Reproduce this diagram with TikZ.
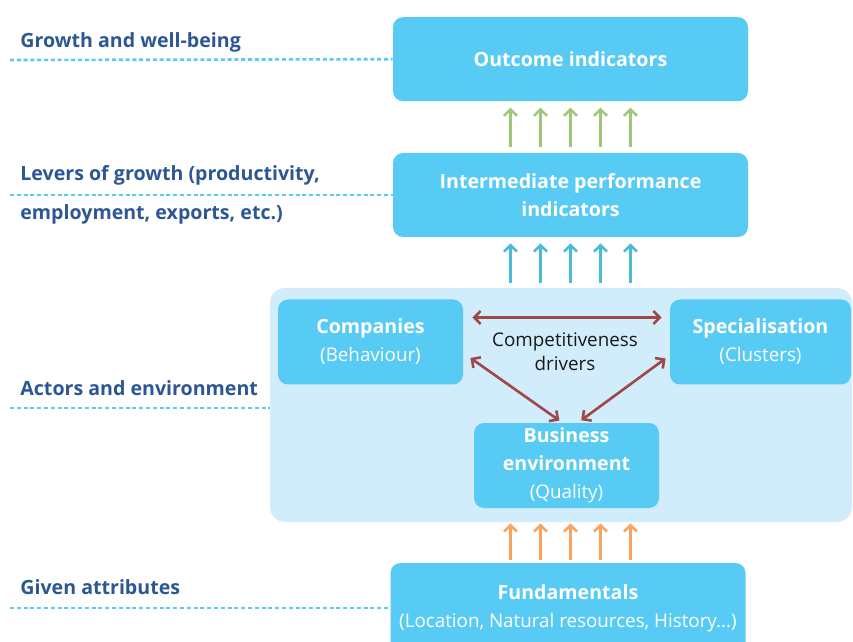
\documentclass[tikz,border=0pt]{standalone}
\usepackage{fontspec}
\setmainfont{Open Sans}
\usetikzlibrary{arrows.meta,positioning}

\definecolor{boxblue}{RGB}{88,203,245}
\definecolor{panelblue}{RGB}{209,236,250}
\definecolor{labblue}{RGB}{44,86,148}
\definecolor{upgreen}{RGB}{157,200,122}
\definecolor{upblue}{RGB}{74,187,214}
\definecolor{uporange}{RGB}{249,163,94}
\definecolor{linkred}{RGB}{160,71,74}

\newcommand{\sub}[1]{{\mdseries\fontsize{9.4}{14}\selectfont #1}}

\begin{document}
\begin{tikzpicture}[
  x=0.5pt,y=-0.5pt,
  font=\fontsize{9.8}{14}\selectfont,
  box/.style={fill=boxblue,rounded corners=5pt,align=center,text=white,font=\fontsize{9.8}{14}\selectfont\bfseries,inner sep=0pt},
  big/.style={box,minimum width=177.5pt,minimum height=42pt},
  small/.style={box,minimum width=92.5pt,minimum height=42.5pt},
  panel/.style={fill=panelblue,rounded corners=7.5pt,minimum width=291pt,minimum height=117pt,inner sep=0pt},
  lab/.style={anchor=west,align=left,text=labblue,inner sep=0pt,font=\fontsize{9.8}{13.5}\selectfont\bfseries},
  guide/.style={draw=boxblue,line width=1.3pt,dash pattern=on 2pt off 1.4pt},
  up/.style={-{Straight Barb[length=3.2pt,width=6.5pt]},line width=1.3pt},
  link/.style={{Straight Barb[length=3.2pt,width=6.5pt]}-{Straight Barb[length=3.2pt,width=6.5pt]},line width=1.3pt,draw=linkred}]
\path[use as bounding box] (0,0) rectangle (853,642);
\clip (0,0) rectangle (853,642);

% light area behind the actors
\node[panel] (panel) at (561,405) {};

% boxes
\node[big] (inter) at (570.5,195) {Intermediate performance\\indicators};
\node[big,above=25.5pt of inter] (outcome) {Outcome indicators};
\node[small] (comp) at (370.5,342) {Companies\\\sub{(Behaviour)}};
\node[small,minimum width=90.5pt] (spec) at (760.5,342) {Specialisation\\\sub{(Clusters)}};
\node[small] (busi) at (566.5,465.5) {Business\\environment\\\sub{(Quality)}};
\node[big,minimum height=45pt] (fund) at (568,608) {Fundamentals\\\sub{(Location, Natural resources, History...)}};
\node[font=\fontsize{9.4}{12}\selectfont,text=black!90,align=center] (drv) at (565,352) {Competitiveness\\drivers};

% levels on the left
\node[lab] (lgrowth) at (20,42) {Growth and well-being};
\node[lab] (llevers) at (20,194.5) {Levers of growth (productivity,\\[6pt]employment, exports, etc.)};
\node[lab] (lactors) at (20,388) {Actors and environment};
\node[lab] (lgiven) at (20,587) {Given attributes};

\coordinate (g0) at (10,60);
\coordinate (l0) at (10,195);
\coordinate (a0) at (10,408);
\coordinate (v0) at (10,608);
\draw[guide] (g0) -- (outcome.west);
\draw[guide] (l0) -- (inter.west);
\draw[guide] (a0) -- (a0 -| panel.west);
\draw[guide] (v0) -- (fund.west);

% upward arrows
\foreach \d in {-30,-15,0,15,30} {
  \draw[up,draw=upgreen,shorten <=3pt,shorten >=3pt] ([xshift=\d pt]inter.north) -- ([xshift=\d pt]inter.north |- outcome.south);
  \draw[up,draw=upblue,shorten <=2.5pt,shorten >=3pt] ([xshift=\d pt]inter.south |- panel.north) -- ([xshift=\d pt]inter.south);
  \draw[up,draw=uporange,shorten <=1.5pt,shorten >=0.5pt] ([xshift=\d pt]inter.south |- fund.north) -- ([xshift=\d pt]inter.south |- panel.south);
}

% drivers
\draw[link,shorten <=4.5pt,shorten >=4pt] ([yshift=12.25pt]comp.east) -- ([yshift=12.25pt]comp.east -| spec.west);
\draw[link,shorten <=4.3pt,shorten >=1.8pt] ([yshift=-5.5pt]comp.east) -- ([xshift=-2.1pt]busi.north);
\draw[link,shorten <=2.5pt,shorten >=2pt] ([yshift=-6.75pt]spec.west) -- ([xshift=5.75pt]busi.north);
\end{tikzpicture}
\end{document}
